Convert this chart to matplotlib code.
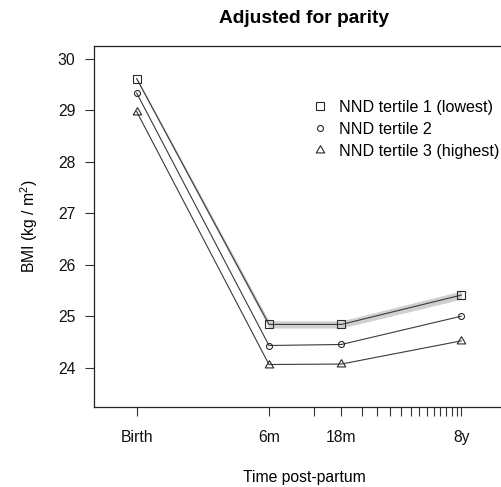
import numpy as np
import matplotlib
matplotlib.use('Agg')
import matplotlib.pyplot as plt
from matplotlib.lines import Line2D

plt.rcParams['font.family'] = ['Liberation Sans', 'DejaVu Sans']
plt.rcParams['mathtext.fontset'] = 'custom'
plt.rcParams['mathtext.rm'] = 'Liberation Sans'
plt.rcParams['mathtext.default'] = 'regular'

# time in years post-partum, axis is log(t + 0.1)
time_years = [0, 0.5, 1.5, 8]
tick_years = [0, 0.5, 1, 1.5, 2, 2.5, 3, 3.5, 4, 4.5, 5, 5.5, 6, 6.5, 7, 7.5, 8]
tick_labels = ['Birth', '6m', '', '18m'] + [''] * 12 + ['8y']
y_ticks = [24, 25, 26, 27, 28, 29, 30]

bmi_t1 = [29.62, 24.84, 24.84, 25.41]
bmi_t2 = [29.34, 24.43, 24.45, 25.00]
bmi_t3 = [28.98, 24.06, 24.07, 24.52]
t1_lo = [29.59, 24.77, 24.77, 25.33]
t1_hi = [29.65, 24.91, 24.91, 25.49]

labels = ['NND tertile 1 (lowest)', 'NND tertile 2', 'NND tertile 3 (highest)']

def fwd(t):
    return np.log(np.asarray(t, dtype=float) + 0.1)

def inv(v):
    return np.exp(v) - 0.1

# R-style triangle (centred on centroid)
tri = [(0, 1), (-0.866, -0.5), (0.866, -0.5), (0, 1)]
markers = ['s', 'o', tri]
msizes = [5.5, 4.3, 7.0]

fig = plt.figure(figsize=(5.02, 4.87), dpi=100)
W, H = 502, 487
ax = fig.add_axes([94.3 / W, (H - 406.7) / H, 420 / W, 361 / H])
ax.set_xscale('function', functions=(fwd, inv))

ax.fill_between(time_years, t1_lo, t1_hi, color='#d0d0d0', lw=0, zorder=1)
for vals, m, ms in zip([bmi_t1, bmi_t2, bmi_t3], markers, msizes):
    ax.plot(time_years, vals, color='#3a3a3a', lw=0.8, zorder=2)
    ax.plot(time_years, vals, ls='none', marker=m, ms=ms, mfc='none',
            mec='#2a2a2a', mew=0.8, zorder=3)

ax.set_xlim(inv(-2.876), inv(2.81))
ax.set_ylim(23.24, 30.26)

ax.set_xticks(tick_years)
ax.set_xticklabels(tick_labels)
ax.set_yticks(y_ticks)
ax.tick_params(axis='both', length=6.5, width=0.8, color='#333333',
               labelsize=11.3, labelcolor='#111111')
ax.tick_params(axis='x', pad=10)
ax.tick_params(axis='y', pad=7)
ax.minorticks_off()
for s in ax.spines.values():
    s.set_linewidth(0.9)
    s.set_color('#222222')

ax.set_xlabel('Time post-partum', fontsize=11.3, labelpad=18)
ax.set_ylabel('BMI (kg / m$^2$)', fontsize=11.3, labelpad=12.5)
ax.set_title('Adjusted for parity', fontsize=13.8, fontweight='bold', pad=16.5)

handles = [Line2D([], [], ls='none', marker=m, ms=ms, mfc='none', mec='#2a2a2a', mew=0.8)
           for m, ms in zip(markers, msizes)]
ax.legend(handles, labels, loc='upper left', bbox_to_anchor=(313.5 / W, 1 - 100 / H),
          bbox_transform=fig.transFigure, frameon=False, fontsize=11.6,
          handlelength=0.8, handletextpad=0.8, labelspacing=0.42, borderpad=0,
          borderaxespad=0)

fig.savefig('out.png', dpi=100)
